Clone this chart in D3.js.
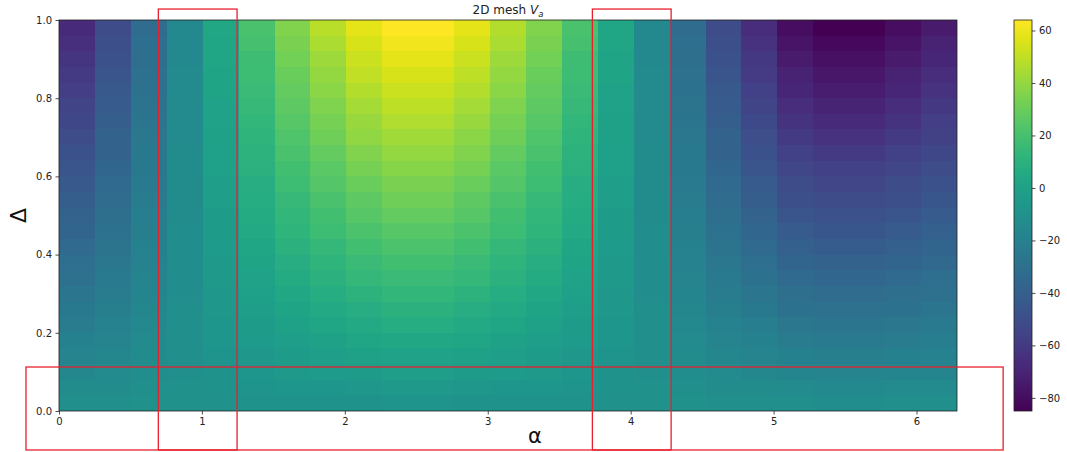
<!DOCTYPE html>
<html>
<head>
<meta charset="utf-8">
<script src="https://d3js.org/d3.v7.min.js"></script>
<style>
    body { margin: 0; background: #fff; }
    svg { display: block; font-family: "DejaVu Sans", sans-serif; }
</style>
</head>
<body>
<svg id="chart" width="1067" height="452"></svg>
<script>
// mesh edges (alpha: 0..2pi in 25 cells, delta: 0..1 in 25 cells)
const alphaEdges = [0, 0.2513, 0.5027, 0.7540, 1.0053, 1.2566, 1.5080, 1.7593, 2.0106, 2.2619,
    2.5133, 2.7646, 3.0159, 3.2673, 3.5186, 3.7699, 4.0212, 4.2726, 4.5239, 4.7752,
    5.0265, 5.2779, 5.5292, 5.7805, 6.0319, 6.2832];
const deltaEdges = [0, 0.04, 0.08, 0.12, 0.16, 0.20, 0.24, 0.28, 0.32, 0.36, 0.40, 0.44, 0.48,
    0.52, 0.56, 0.60, 0.64, 0.68, 0.72, 0.76, 0.80, 0.84, 0.88, 0.92, 0.96, 1.0];

// V_a values, one list per alpha cell, read from bottom (delta=0) to top (delta=1)
const vaColumns = [
    [-11,-13,-16,-18,-20,-23,-25,-27,-30,-32,-34,-37,-39,-41,-44,-46,-48,-51,-53,-55,-58,-60,-62,-65,-67],
    [-11,-13,-14,-16,-18,-19,-21,-23,-24,-26,-28,-29,-31,-33,-34,-36,-38,-39,-41,-43,-44,-46,-48,-49,-51],
    [-10,-11,-12,-13,-14,-15,-16,-17,-18,-19,-20,-21,-22,-23,-24,-25,-25,-26,-27,-28,-29,-30,-31,-32,-33],
    [-10,-10,-11,-11,-11,-11,-11,-12,-12,-12,-12,-12,-13,-13,-13,-13,-13,-14,-14,-14,-14,-14,-15,-15,-15],
    [-10,-9,-9,-8,-7,-7,-6,-6,-5,-5,-4,-3,-3,-2,-2,-1,-1,0,1,1,2,2,3,3,4],
    [-9,-8,-7,-6,-4,-3,-2,-1,1,2,3,5,6,7,8,10,11,12,13,15,16,17,18,20,21],
    [-9,-7,-5,-3,-2,0,2,4,6,8,10,12,13,15,17,19,21,23,25,27,28,30,32,34,36],
    [-9,-7,-4,-2,0,3,5,7,10,12,14,17,19,21,24,26,28,31,33,35,38,40,42,45,48],
    [-9,-6,-3,0,3,5,8,11,14,16,19,22,25,27,30,33,36,39,41,44,47,50,52,55,58],
    [-8,-5,-2,1,4,7,10,13,16,19,22,25,28,31,34,37,40,43,46,49,52,55,58,61,64],
    [-8,-5,-2,1,4,7,10,13,16,19,22,25,28,31,34,37,40,43,46,49,52,55,58,61,64],
    [-9,-6,-3,0,3,5,8,11,14,16,19,22,25,27,30,33,36,38,41,44,47,49,52,55,58],
    [-9,-7,-4,-2,0,3,5,7,10,12,14,17,19,21,24,26,28,31,33,35,38,40,42,45,47],
    [-9,-7,-5,-3,-2,0,2,4,6,8,10,12,13,15,17,19,21,23,25,27,28,30,32,34,36],
    [-9,-8,-7,-6,-4,-3,-2,-1,1,2,3,5,6,7,8,10,11,12,13,15,16,17,18,20,21],
    [-10,-9,-9,-8,-7,-7,-6,-6,-5,-5,-4,-3,-3,-2,-2,-1,-1,0,0,1,1,2,2,3,3],
    [-10,-10,-11,-11,-11,-11,-11,-12,-12,-12,-12,-12,-13,-13,-13,-13,-13,-14,-14,-14,-14,-14,-15,-15,-15],
    [-10,-11,-12,-13,-14,-15,-16,-17,-18,-19,-20,-21,-22,-23,-24,-25,-25,-26,-27,-28,-29,-30,-31,-32,-33],
    [-11,-13,-14,-16,-18,-19,-21,-23,-24,-26,-28,-29,-31,-33,-34,-36,-38,-39,-41,-43,-44,-46,-48,-49,-51],
    [-11,-13,-16,-18,-20,-22,-25,-27,-29,-32,-34,-36,-39,-41,-43,-46,-48,-50,-52,-55,-57,-59,-61,-64,-66],
    [-11,-14,-17,-20,-23,-26,-29,-31,-34,-37,-40,-43,-46,-49,-51,-54,-57,-60,-63,-66,-69,-71,-74,-77,-80],
    [-12,-15,-18,-21,-24,-27,-30,-33,-36,-39,-42,-45,-48,-51,-54,-57,-60,-64,-67,-70,-73,-76,-79,-82,-85],
    [-12,-15,-18,-21,-24,-27,-30,-33,-36,-39,-42,-45,-48,-51,-54,-57,-60,-64,-67,-70,-73,-76,-79,-82,-85],
    [-11,-14,-17,-20,-23,-26,-29,-31,-34,-37,-40,-43,-46,-49,-51,-54,-57,-60,-63,-66,-69,-71,-74,-77,-80],
    [-11,-14,-17,-19,-22,-24,-27,-30,-32,-35,-37,-40,-43,-45,-48,-51,-53,-56,-58,-61,-64,-66,-69,-71,-74]
];

const xTicks = [0, 1, 2, 3, 4, 5, 6];
const yTicks = [0, 0.2, 0.4, 0.6, 0.8, 1.0];
const cbarTicks = [-80, -60, -40, -20, 0, 20, 40, 60];

// red highlight boxes, in data units (alpha, delta)
const highlightBoxes = [
    { a0: 0.695, a1: 1.246, d0: -0.0997, d1: 1.028 },
    { a0: 3.732, a1: 4.283, d0: -0.0997, d1: 1.028 },
    { a0: -0.231, a1: 6.606, d0: -0.0997, d1: 0.1125 }
];

const plot = { left: 59, right: 957, top: 20, bottom: 411 };
const cbar = { left: 1014, width: 18 };

const svg = d3.select("#chart");

const x = d3.scaleLinear().domain([0, alphaEdges[alphaEdges.length - 1]]).range([plot.left, plot.right]);
const y = d3.scaleLinear().domain([0, 1]).range([plot.bottom, plot.top]);

const allValues = vaColumns.flat();
const vMin = d3.min(allValues), vMax = d3.max(allValues);
const color = d3.scaleSequential(d3.interpolateViridis).domain([vMin, vMax]);

// cells
const cells = [];
vaColumns.forEach((col, c) => {
    col.forEach((v, r) => cells.push({ c, r, v }));
});

svg.append("g")
    .attr("shape-rendering", "crispEdges")
    .selectAll("rect")
    .data(cells)
    .join("rect")
    .attr("x", d => x(alphaEdges[d.c]))
    .attr("y", d => y(deltaEdges[d.r + 1]))
    .attr("width", d => x(alphaEdges[d.c + 1]) - x(alphaEdges[d.c]))
    .attr("height", d => y(deltaEdges[d.r]) - y(deltaEdges[d.r + 1]))
    .attr("fill", d => color(d.v));

// frame
svg.append("rect")
    .attr("x", plot.left)
    .attr("y", plot.top)
    .attr("width", plot.right - plot.left)
    .attr("height", plot.bottom - plot.top)
    .attr("fill", "none")
    .attr("stroke", "#222")
    .attr("stroke-width", 0.8);

// axes
const xAxis = svg.append("g")
    .attr("transform", `translate(0,${plot.bottom})`)
    .call(d3.axisBottom(x).tickValues(xTicks).tickFormat(d3.format("d")).tickSize(3.5).tickPadding(3.5));

const yAxis = svg.append("g")
    .attr("transform", `translate(${plot.left},0)`)
    .call(d3.axisLeft(y).tickValues(yTicks).tickFormat(d3.format(".1f")).tickSize(3.5).tickPadding(3.5));

[xAxis, yAxis].forEach(a => {
    a.select(".domain").remove();
    a.selectAll("line").attr("stroke", "#222").attr("stroke-width", 0.8);
    a.selectAll("text").attr("fill", "#222").style("font-size", "10px").style("font-family", "DejaVu Sans, sans-serif");
});

// title
const title = svg.append("text")
    .attr("x", (plot.left + plot.right) / 2)
    .attr("y", 14)
    .attr("text-anchor", "middle")
    .attr("fill", "#222")
    .style("font-size", "12px");
title.append("tspan").text("2D mesh ");
title.append("tspan").attr("font-style", "italic").text("V");
title.append("tspan").attr("font-style", "italic").attr("dy", 3).style("font-size", "8.5px").text("a");

// axis labels
svg.append("text")
    .attr("x", 535)
    .attr("y", 443)
    .attr("text-anchor", "middle")
    .attr("fill", "#111")
    .style("font-size", "21px")
    .text("α");

svg.append("text")
    .attr("transform", `translate(26,${(plot.top + plot.bottom) / 2}) rotate(-90)`)
    .attr("text-anchor", "middle")
    .attr("fill", "#111")
    .style("font-size", "22px")
    .text("Δ");

// colorbar
const cy = d3.scaleLinear().domain([vMin, vMax]).range([plot.bottom, plot.top]);
const grad = svg.append("defs").append("linearGradient")
    .attr("id", "cbgrad")
    .attr("x1", 0).attr("y1", 1).attr("x2", 0).attr("y2", 0);
grad.selectAll("stop")
    .data(d3.range(0, 1.0001, 0.05))
    .join("stop")
    .attr("offset", d => d)
    .attr("stop-color", d => d3.interpolateViridis(d));

svg.append("rect")
    .attr("x", cbar.left)
    .attr("y", plot.top)
    .attr("width", cbar.width)
    .attr("height", plot.bottom - plot.top)
    .attr("fill", "url(#cbgrad)")
    .attr("stroke", "#222")
    .attr("stroke-width", 0.8);

const cAxis = svg.append("g")
    .attr("transform", `translate(${cbar.left + cbar.width},0)`)
    .call(d3.axisRight(cy).tickValues(cbarTicks).tickFormat(d3.format("d")).tickSize(3.5).tickPadding(3.5));
cAxis.select(".domain").remove();
cAxis.selectAll("line").attr("stroke", "#222").attr("stroke-width", 0.8);
cAxis.selectAll("text").attr("fill", "#222").style("font-size", "10px").style("font-family", "DejaVu Sans, sans-serif");

// highlight boxes
svg.append("g")
    .selectAll("rect")
    .data(highlightBoxes)
    .join("rect")
    .attr("x", d => x(d.a0))
    .attr("y", d => y(d.d1))
    .attr("width", d => x(d.a1) - x(d.a0))
    .attr("height", d => y(d.d0) - y(d.d1))
    .attr("fill", "none")
    .attr("stroke", "#e8202e")
    .attr("stroke-width", 1.3);
</script>
</body>
</html>
